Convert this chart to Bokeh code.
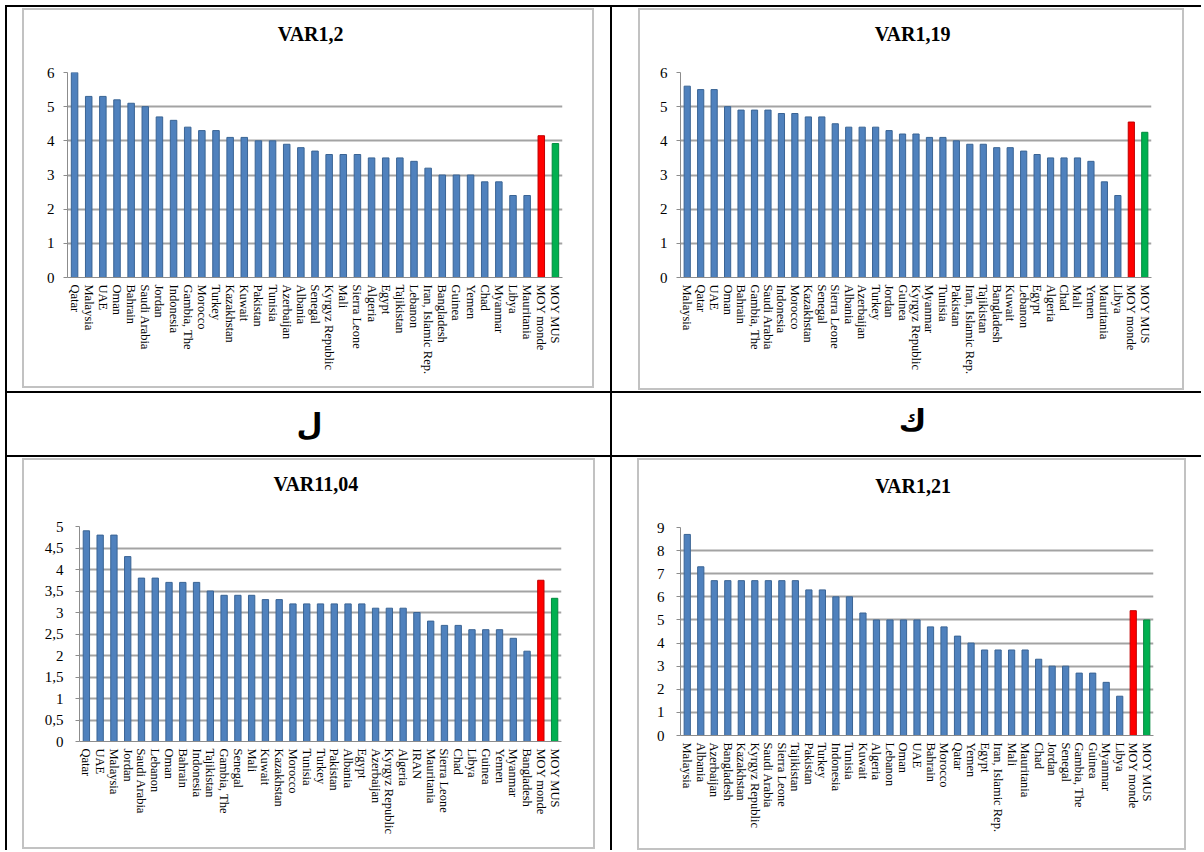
from bokeh.plotting import figure
from bokeh.models import (ColumnDataSource, FactorRange, Range1d, FixedTicker,
                          CustomJSTickFormatter, Div, Spacer)
from bokeh.layouts import row, column
from bokeh.embed import file_html
from bokeh.resources import INLINE
from bokeh.core.properties import value

# ---------------- data ----------------
title1 = "VAR1,2"
cats1 = ["Qatar", "Malaysia", "UAE", "Oman", "Bahrain", "Saudi Arabia", "Jordan", "Indonesia",
         "Gambia, The", "Morocco", "Turkey", "Kazakhstan", "Kuwait", "Pakistan", "Tunisia",
         "Azerbaijan", "Albania", "Senegal", "Kyrgyz Republic", "Mali", "Sierra Leone", "Algeria",
         "Egypt", "Tajikistan", "Lebanon", "Iran, Islamic Rep.", "Bangladesh", "Guinea", "Yemen",
         "Chad", "Myanmar", "Libya", "Mauritania", "MOY monde", "MOY MUS"]
vals1 = [6.0, 5.3, 5.3, 5.2, 5.1, 5.0, 4.7, 4.6, 4.4, 4.3, 4.3, 4.1, 4.1, 4.0, 4.0, 3.9, 3.8,
         3.7, 3.6, 3.6, 3.6, 3.5, 3.5, 3.5, 3.4, 3.2, 3.0, 3.0, 3.0, 2.8, 2.8, 2.4, 2.4, 4.15, 3.92]
ticks1 = [0, 1, 2, 3, 4, 5, 6]

title2 = "VAR1,19"
cats2 = ["Malaysia", "Qatar", "UAE", "Oman", "Bahrain", "Gambia, The", "Saudi Arabia", "Indonesia",
         "Morocco", "Kazakhstan", "Senegal", "Sierra Leone", "Albania", "Azerbaijan", "Turkey",
         "Jordan", "Guinea", "Kyrgyz Republic", "Myanmar", "Tunisia", "Pakistan",
         "Iran, Islamic Rep.", "Tajikistan", "Bangladesh", "Kuwait", "Lebanon", "Egypt", "Algeria",
         "Chad", "Mali", "Yemen", "Mauritania", "Libya", "MOY monde", "MOY MUS"]
vals2 = [5.6, 5.5, 5.5, 5.0, 4.9, 4.9, 4.9, 4.8, 4.8, 4.7, 4.7, 4.5, 4.4, 4.4, 4.4, 4.3, 4.2,
         4.2, 4.1, 4.1, 4.0, 3.9, 3.9, 3.8, 3.8, 3.7, 3.6, 3.5, 3.5, 3.5, 3.4, 2.8, 2.4, 4.55, 4.25]
ticks2 = [0, 1, 2, 3, 4, 5, 6]

title3 = "VAR11,04"
cats3 = ["Qatar", "UAE", "Malaysia", "Jordan", "Saudi Arabia", "Lebanon", "Oman", "Bahrain",
         "Indonesia", "Tajikistan", "Gambia, The", "Senegal", "Mali", "Kuwait", "Kazakhstan",
         "Morocco", "Tunisia", "Turkey", "Pakistan", "Albania", "Egypt", "Azerbaijan",
         "Kyrgyz Republic", "Algeria", "IRAN", "Mauritania", "Sierra Leone", "Chad", "Libya",
         "Guinea", "Yemen", "Myanmar", "Bangladesh", "MOY monde", "MOY MUS"]
vals3 = [4.9, 4.8, 4.8, 4.3, 3.8, 3.8, 3.7, 3.7, 3.7, 3.5, 3.4, 3.4, 3.4, 3.3, 3.3, 3.2, 3.2,
         3.2, 3.2, 3.2, 3.2, 3.1, 3.1, 3.1, 3.0, 2.8, 2.7, 2.7, 2.6, 2.6, 2.6, 2.4, 2.1, 3.75, 3.33]
ticks3 = [0, 0.5, 1, 1.5, 2, 2.5, 3, 3.5, 4, 4.5, 5]

title4 = "VAR1,21"
cats4 = ["Malaysia", "Albania", "Azerbaijan", "Bangladesh", "Kazakhstan", "Kyrgyz Republic",
         "Saudi Arabia", "Sierra Leone", "Tajikistan", "Pakistan", "Turkey", "Indonesia",
         "Tunisia", "Kuwait", "Algeria", "Lebanon", "Oman", "UAE", "Bahrain", "Morocco", "Qatar",
         "Yemen", "Egypt", "Iran, Islamic Rep.", "Mali", "Mauritania", "Chad", "Jordan", "Senegal",
         "Gambia, The", "Guinea", "Myanmar", "Libya", "MOY monde", "MOY MUS"]
vals4 = [8.7, 7.3, 6.7, 6.7, 6.7, 6.7, 6.7, 6.7, 6.7, 6.3, 6.3, 6.0, 6.0, 5.3, 5.0, 5.0, 5.0,
         5.0, 4.7, 4.7, 4.3, 4.0, 3.7, 3.7, 3.7, 3.7, 3.3, 3.0, 3.0, 2.7, 2.7, 2.3, 1.7, 5.4, 5.0]
ticks4 = [0, 1, 2, 3, 4, 5, 6, 7, 8, 9]

letter_left = "ل"
letter_right = "ك"

# ---------------- styles ----------------
BLUE, BLUE_EDGE = "#4F81BD", "#3A6494"
RED, RED_EDGE = "#FF0000", "#C00000"
GREEN, GREEN_EDGE = "#00B050", "#008A3E"
GRID = "#a3a3a3"
AXIS = "#8c8c8c"
FRAME = "#c2c2c2"
SERIF = "'Liberation Serif', 'Times New Roman', serif"


def bar_colors(cats):
    fills, lines = [], []
    for c in cats:
        if c == "MOY monde":
            fills.append(RED); lines.append(RED_EDGE)
        elif c == "MOY MUS":
            fills.append(GREEN); lines.append(GREEN_EDGE)
        else:
            fills.append(BLUE); lines.append(BLUE_EDGE)
    return fills, lines


def text_fig(txt, w, h, xc, yc_from_top, font, size, style="bold"):
    p = figure(width=w, height=h, x_range=Range1d(0, w), y_range=Range1d(0, h),
               x_axis_type=None, y_axis_type=None, output_backend="svg",
               toolbar_location=None, min_border=0, title=None)
    p.grid.visible = False
    p.outline_line_color = None
    p.background_fill_color = "white"
    p.border_fill_color = "white"
    p.text(x=[xc], y=[h - yc_from_top], text=[txt], text_align="center",
           text_baseline="middle", text_font=value(font), text_font_size=size,
           text_font_style=style, text_color="black")
    return p


def make_chart(title, cats, vals, ticks, fw, fh, th, ml, mr, mt, mb, ystand, tx, ty):
    fills, lines = bar_colors(cats)
    src = ColumnDataSource(dict(cat=cats, val=vals, fill=fills, line=lines))
    p = figure(width=fw, height=fh - th, x_range=FactorRange(*cats),
               y_range=Range1d(0, ticks[-1]), output_backend="svg", toolbar_location=None,
               title=None, min_border_left=ml, min_border_right=mr,
               min_border_top=mt - th, min_border_bottom=mb)
    p.vbar(x="cat", top="val", width=0.46, source=src, fill_color="fill",
           line_color="line", line_width=1)
    p.outline_line_color = None
    p.background_fill_color = "white"
    p.border_fill_color = "white"
    p.xgrid.grid_line_color = None
    p.ygrid.grid_line_color = GRID
    p.ygrid.grid_line_width = 2

    ya = p.yaxis[0]
    ya.ticker = FixedTicker(ticks=ticks)
    ya.formatter = CustomJSTickFormatter(code="return tick.toString().replace('.', ',');")
    ya.major_label_text_font = SERIF
    ya.major_label_text_font_size = "15px"
    ya.major_label_text_color = "black"
    ya.axis_line_color = AXIS
    ya.major_tick_line_color = AXIS
    ya.major_tick_out = 4
    ya.major_tick_in = 0
    ya.minor_tick_line_color = None
    ya.major_label_standoff = ystand

    xa = p.xaxis[0]
    xa.axis_line_color = AXIS
    xa.major_tick_line_color = None
    xa.major_tick_out = 0
    xa.major_tick_in = 0
    xa.major_label_orientation = "vertical"
    xa.major_label_text_font = SERIF
    xa.major_label_text_font_size = "12.5px"
    xa.major_label_text_color = "black"
    xa.major_label_standoff = 7

    t = text_fig(title, fw, th, tx, ty, "Liberation Serif", "20px")
    return column(t, p, spacing=0)


def bar(w, h, color):
    return Div(text="", width=w, height=h, margin=0,
               styles={"background-color": color})


def gap(w, h):
    return Spacer(width=w, height=h, margin=0)


def framed(fig, fw, fh):
    bw = fw + 4
    return column(bar(bw, 2, FRAME),
                  row(bar(2, fh, FRAME), fig, bar(2, fh, FRAME), spacing=0),
                  bar(bw, 2, FRAME), spacing=0)


def cell(fig, fw, fh, cw, ch, left, top):
    bw, bh = fw + 4, fh + 4
    inner = column(gap(bw, top), framed(fig, fw, fh), gap(bw, max(ch - top - bh, 0)), spacing=0)
    return row(gap(left, ch), inner, gap(max(cw - left - bw, 0), ch), spacing=0)


# ---------------- charts ----------------
BLK = "black"
W1, W2 = 603, 589
H1, H2, H3 = 384, 62, 393

p1 = make_chart(title1, cats1, vals1, ticks1, 568, 376, 40, 43, 30, 62, 109, 9, 279, 23)
p2 = make_chart(title2, cats2, vals2, ticks2, 542, 378, 40, 40, 31, 62, 111, 9, 267, 23)
p3 = make_chart(title3, cats3, vals3, ticks3, 569, 387, 44, 55, 32, 66, 106, 12, 279, 23)
p4 = make_chart(title4, cats4, vals4, ticks4, 545, 388, 44, 41, 31, 67, 113, 12, 268, 25)

c1 = cell(p1, 568, 376, W1, H1, 15, 1)
c2 = cell(p2, 542, 378, W2, H1, 26, 1)
c3 = cell(p3, 569, 387, W1, H3, 15, 1)
c4 = cell(p4, 545, 388, W2, H3, 25, 1)

l1 = text_fig(letter_left, W1, H2, 302, 31, "DejaVu Sans", "30px")
l2 = text_fig(letter_right, W2, H2, 300, 27, "DejaVu Sans", "30px")

TOTW = 2 + W1 + 2 + W2

root = column(
    bar(TOTW, 2, BLK),
    row(bar(2, H1, BLK), c1, bar(2, H1, BLK), c2, spacing=0),
    bar(TOTW, 2, BLK),
    row(bar(2, H2, BLK), l1, bar(2, H2, BLK), l2, spacing=0),
    bar(TOTW, 2, BLK),
    row(bar(2, H3, BLK), c3, bar(2, H3, BLK), c4, spacing=0),
    spacing=0,
    styles={"position": "relative", "left": "5px", "top": "5px"},
)

open("out.html", "w").write(file_html(root, INLINE))
